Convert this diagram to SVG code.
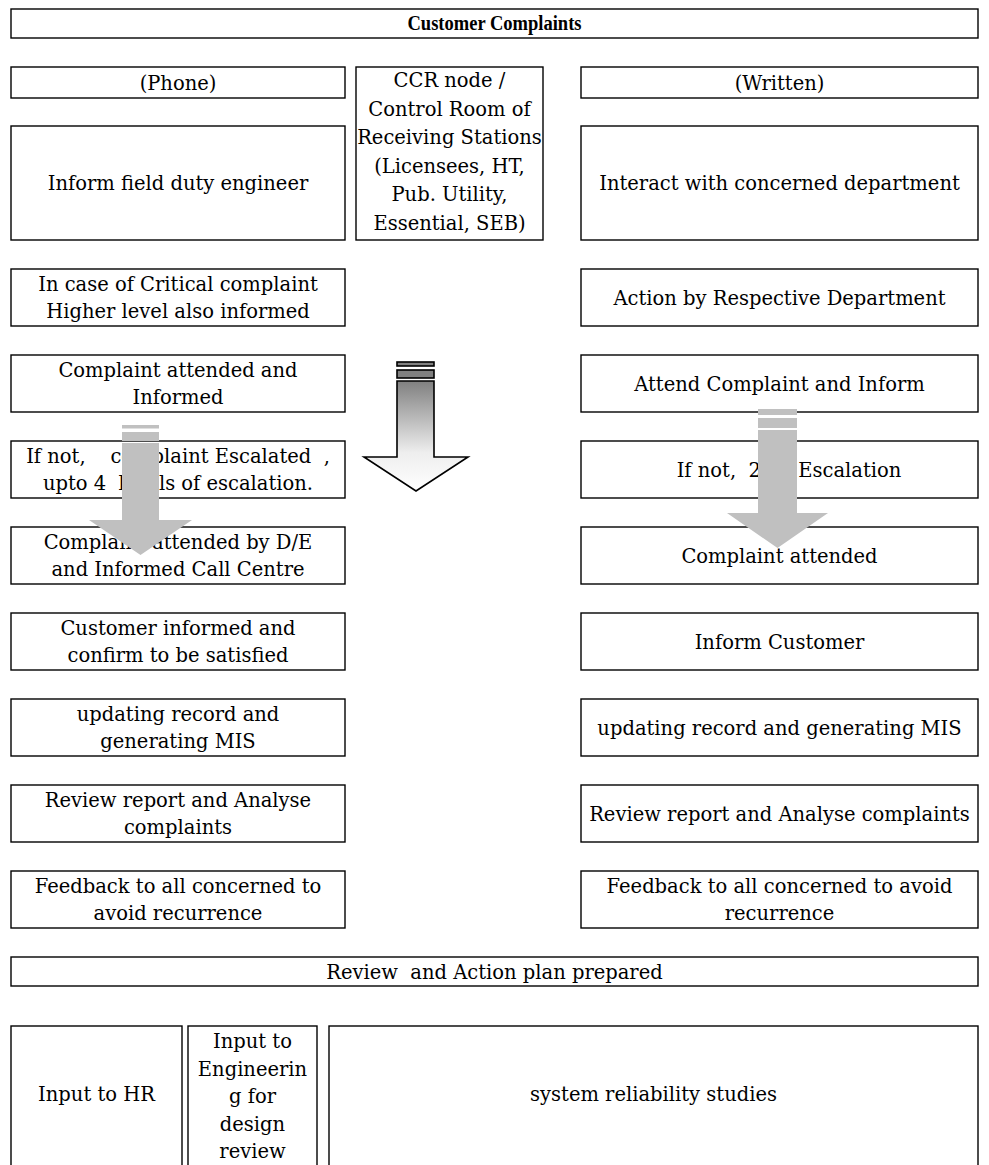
<svg xmlns="http://www.w3.org/2000/svg" width="989" height="1165" viewBox="0 0 989 1165">
<style>
.box{fill:#fff;stroke:#000;stroke-width:1.4}
.t{font-family:"DejaVu Serif",serif;font-size:19.5px;text-anchor:middle;fill:#000}
.b{font-family:"Liberation Serif","DejaVu Serif",serif;font-weight:bold;font-size:20.5px}
.g{fill:#c0c0c0}
.c{stroke:#000;stroke-width:1.6}
</style>
<defs>
<linearGradient id="grad" gradientUnits="userSpaceOnUse" x1="0" y1="381" x2="0" y2="491">
<stop offset="0" stop-color="#808080"/>
<stop offset="0.65" stop-color="#eeeeee"/>
<stop offset="1" stop-color="#ffffff"/>
</linearGradient>
</defs>
<rect width="989" height="1165" fill="#fff"/>

<g id="title"><rect class="box" x="11" y="9" width="967" height="29"/><text class="t b" x="494.5" y="30" textLength="174" lengthAdjust="spacingAndGlyphs">Customer Complaints</text></g>

<g id="phone"><rect class="box" x="11" y="67" width="334" height="31"/><text class="t" x="178" y="89.5">(Phone)</text></g>
<g id="ccr"><rect class="box" x="356" y="67" width="187" height="173"/>
<text class="t" x="449.5" y="87">CCR node /</text>
<text class="t" x="449.5" y="115.5">Control Room of</text>
<text class="t" x="449.5" y="144">Receiving Stations</text>
<text class="t" x="449.5" y="172.5">(Licensees, HT,</text>
<text class="t" x="449.5" y="201">Pub. Utility,</text>
<text class="t" x="449.5" y="229.5">Essential, SEB)</text></g>
<g id="written"><rect class="box" x="581" y="67" width="397" height="31"/><text class="t" x="779.5" y="89.5">(Written)</text></g>

<g id="p1"><rect class="box" x="11" y="126" width="334" height="114"/><text class="t" x="178" y="190">Inform field duty engineer</text></g>
<g id="p2"><rect class="box" x="11" y="269" width="334" height="57"/><text class="t" x="178" y="291">In case of Critical complaint</text><text class="t" x="178" y="318">Higher level also informed</text></g>
<g id="p3"><rect class="box" x="11" y="355" width="334" height="57"/><text class="t" x="178" y="377">Complaint attended and</text><text class="t" x="178" y="404">Informed</text></g>
<g id="p4"><rect class="box" x="11" y="441" width="334" height="57"/><text class="t" x="178" y="463" xml:space="preserve">If not,    complaint Escalated  ,</text><text class="t" x="178" y="490" xml:space="preserve">upto 4  levels of escalation.</text></g>
<g id="p5"><rect class="box" x="11" y="527" width="334" height="57"/><text class="t" x="178" y="549">Complaint attended by D/E</text><text class="t" x="178" y="576">and Informed Call Centre</text></g>
<g id="p6"><rect class="box" x="11" y="613" width="334" height="57"/><text class="t" x="178" y="635">Customer informed and</text><text class="t" x="178" y="662">confirm to be satisfied</text></g>
<g id="p7"><rect class="box" x="11" y="699" width="334" height="57"/><text class="t" x="178" y="721">updating record and</text><text class="t" x="178" y="748">generating MIS</text></g>
<g id="p8"><rect class="box" x="11" y="785" width="334" height="57"/><text class="t" x="178" y="807">Review report and Analyse</text><text class="t" x="178" y="834">complaints</text></g>
<g id="p9"><rect class="box" x="11" y="871" width="334" height="57"/><text class="t" x="178" y="893">Feedback to all concerned to</text><text class="t" x="178" y="920">avoid recurrence</text></g>

<g id="w1"><rect class="box" x="581" y="126" width="397" height="114"/><text class="t" x="779.5" y="190">Interact with concerned department</text></g>
<g id="w2"><rect class="box" x="581" y="269" width="397" height="57"/><text class="t" x="779.5" y="304.5">Action by Respective Department</text></g>
<g id="w3"><rect class="box" x="581" y="355" width="397" height="57"/><text class="t" x="779.5" y="390.5">Attend Complaint and Inform</text></g>
<g id="w4"><rect class="box" x="581" y="441" width="397" height="57"/><text class="t" x="789" y="476.5" xml:space="preserve">If not,  2nd  Escalation</text></g>
<g id="w5"><rect class="box" x="581" y="527" width="397" height="57"/><text class="t" x="779.5" y="562.5">Complaint attended</text></g>
<g id="w6"><rect class="box" x="581" y="613" width="397" height="57"/><text class="t" x="779.5" y="648.5">Inform Customer</text></g>
<g id="w7"><rect class="box" x="581" y="699" width="397" height="57"/><text class="t" x="779.5" y="734.5">updating record and generating MIS</text></g>
<g id="w8"><rect class="box" x="581" y="785" width="397" height="57"/><text class="t" x="779.5" y="820.5">Review report and Analyse complaints</text></g>
<g id="w9"><rect class="box" x="581" y="871" width="397" height="57"/><text class="t" x="779.5" y="893">Feedback to all concerned to avoid</text><text class="t" x="779.5" y="920">recurrence</text></g>

<g id="review"><rect class="box" x="11" y="957" width="967" height="29"/><text class="t" x="494.5" y="978.5" xml:space="preserve">Review  and Action plan prepared</text></g>

<g id="hr"><rect class="box" x="11" y="1026" width="171" height="150"/><text class="t" x="96.5" y="1101">Input to HR</text></g>
<g id="eng"><rect class="box" x="188" y="1026" width="129" height="150"/>
<text class="t" x="252.5" y="1048">Input to</text>
<text class="t" x="252.5" y="1075.5">Engineerin</text>
<text class="t" x="252.5" y="1103">g for</text>
<text class="t" x="252.5" y="1130.5">design</text>
<text class="t" x="252.5" y="1158">review</text></g>
<g id="rel"><rect class="box" x="329" y="1026" width="649" height="150"/><text class="t" x="653.5" y="1101">system reliability studies</text></g>

<g id="connectors">
<g id="arrow-center">
<rect class="c" x="397" y="362" width="37" height="4" fill="#808080"/>
<rect class="c" x="397" y="370" width="37" height="8" fill="#808080"/>
<polygon class="c" fill="url(#grad)" points="397,381 434,381 434,457 468,457 416,491 364,457 397,457"/>
</g>
<g id="arrow-left" class="g">
<rect x="122" y="425" width="37" height="3.5"/>
<rect x="122" y="432" width="37" height="9"/>
<polygon points="122,443 159,443 159,520 192,520 140.5,555 89,520 122,520"/>
</g>
<g id="arrow-right" class="g">
<rect x="758" y="409" width="39" height="6"/>
<rect x="758" y="418" width="39" height="10"/>
<polygon points="758,430 797,430 797,513 828,513 777.5,548 727,513 758,513"/>
</g>
</g>
</svg>
